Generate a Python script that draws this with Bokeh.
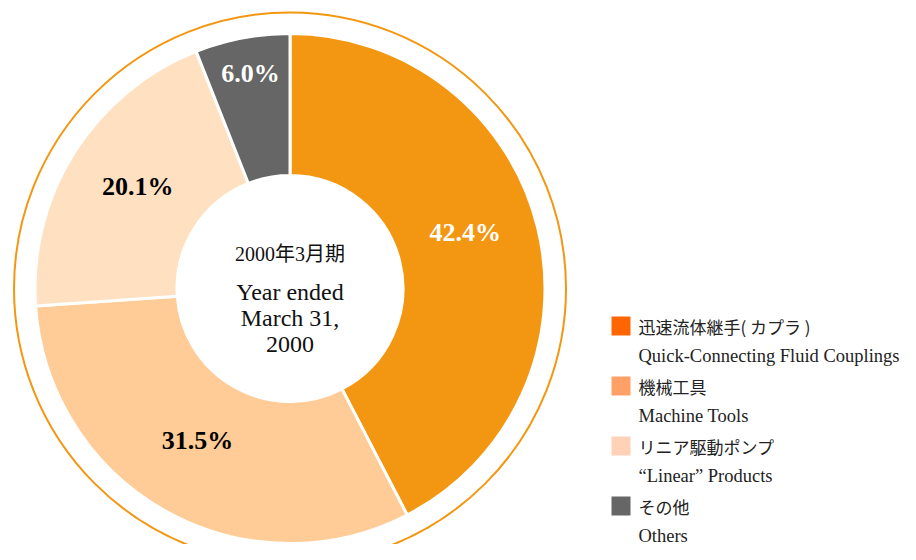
import math
from bokeh.plotting import figure
from bokeh.models import Range1d, ColumnDataSource
from bokeh.core.properties import value
from bokeh.embed import file_html
from bokeh.resources import INLINE

# ---- data ----
labels_jp = ["迅速流体継手( カプラ )", "機械工具", "リニア駆動ポンプ", "その他"]
labels_en = ["Quick-Connecting Fluid Couplings", "Machine Tools", "\u201cLinear\u201d Products", "Others"]
shares = [42.4, 31.5, 20.1, 6.0]
pct_text = ["42.4%", "31.5%", "20.1%", "6.0%"]
pie_colors = ["#F39712", "#FFCB96", "#FFE0C1", "#666666"]
legend_colors = ["#FF6600", "#FFA066", "#FFD1B6", "#666666"]
label_colors = ["white", "black", "black", "white"]
center_jp = "2000年3月期"
center_en = ["Year ended", "March 31,", "2000"]

# ---- layout ----
W, H = 900, 544
CX, CY = 289.5, 256.0
R_OUT, R_IN, R_RING = 255, 113, 276
label_r = [184, 178, 183, 219]
label_dang = [-4.0, 2.0, 1.5, 0.4]

SERIF = "'Liberation Serif', 'Noto Sans CJK JP'"
CJK = "'Noto Sans CJK JP'"

p = figure(width=W, height=H, output_backend="svg", toolbar_location=None,
           x_range=Range1d(0, W), y_range=Range1d(0, H), min_border=0,
           x_axis_location=None, y_axis_location=None)
p.grid.visible = False
p.outline_line_color = None
p.background_fill_color = "white"

total = sum(shares)
starts, ends, lx, ly = [], [], [], []
cum = 0.0
for i, s in enumerate(shares):
    a0 = math.pi / 2 - 2 * math.pi * cum / total
    a1 = math.pi / 2 - 2 * math.pi * (cum + s) / total
    starts.append(a0)
    ends.append(a1)
    mid = math.pi / 2 - 2 * math.pi * (cum + s / 2) / total - math.radians(label_dang[i])
    lx.append(CX + label_r[i] * math.cos(mid))
    ly.append(CY + label_r[i] * math.sin(mid))
    cum += s

# outer ring
p.circle(x=[CX], y=[CY], radius=R_RING, fill_color=None, line_color="#F39712", line_width=2)

src = ColumnDataSource(dict(start=starts, end=ends, color=pie_colors))
p.annular_wedge(x=CX, y=CY, inner_radius=R_IN, outer_radius=R_OUT,
                start_angle="start", end_angle="end", direction="clock",
                fill_color="color", line_color="white", line_width=3, source=src)

lsrc = ColumnDataSource(dict(x=lx, y=ly, t=pct_text, c=label_colors))
p.text(x="x", y="y", text="t", text_color="c", source=lsrc,
       text_font=value("Liberation Serif"), text_font_style="bold",
       text_font_size="26px", text_align="center", text_baseline="middle")

# center text
p.text(x=[CX], y=[CY + 35], text=[center_jp], text_font=value(SERIF),
       text_font_size="20px", text_align="center", text_baseline="alphabetic",
       text_color="#111111")
p.text(x=[CX] * 3, y=[CY - 3 - 26.5 * k for k in range(3)], text=center_en,
       text_font=value("Liberation Serif"), text_font_size="24px",
       text_align="center", text_baseline="alphabetic", text_color="#111111")

# legend
n = len(labels_jp)
sq_cx = [620.5] * n
sq_cy = [H - (325.5 + 60 * i) for i in range(n)]
p.rect(x=sq_cx, y=sq_cy, width=19, height=19, fill_color=legend_colors, line_color=None)
p.text(x=[638] * n, y=sq_cy, text=labels_jp, text_font=value(CJK),
       text_font_size="17px", text_baseline="middle", text_color="#222222")
p.text(x=[638] * n, y=[c - 29.5 for c in sq_cy], text=labels_en,
       text_font=value("Liberation Serif"), text_font_size="18.5px",
       text_baseline="alphabetic", text_color="#222222")

open("out.html", "w").write(file_html(p, INLINE))
